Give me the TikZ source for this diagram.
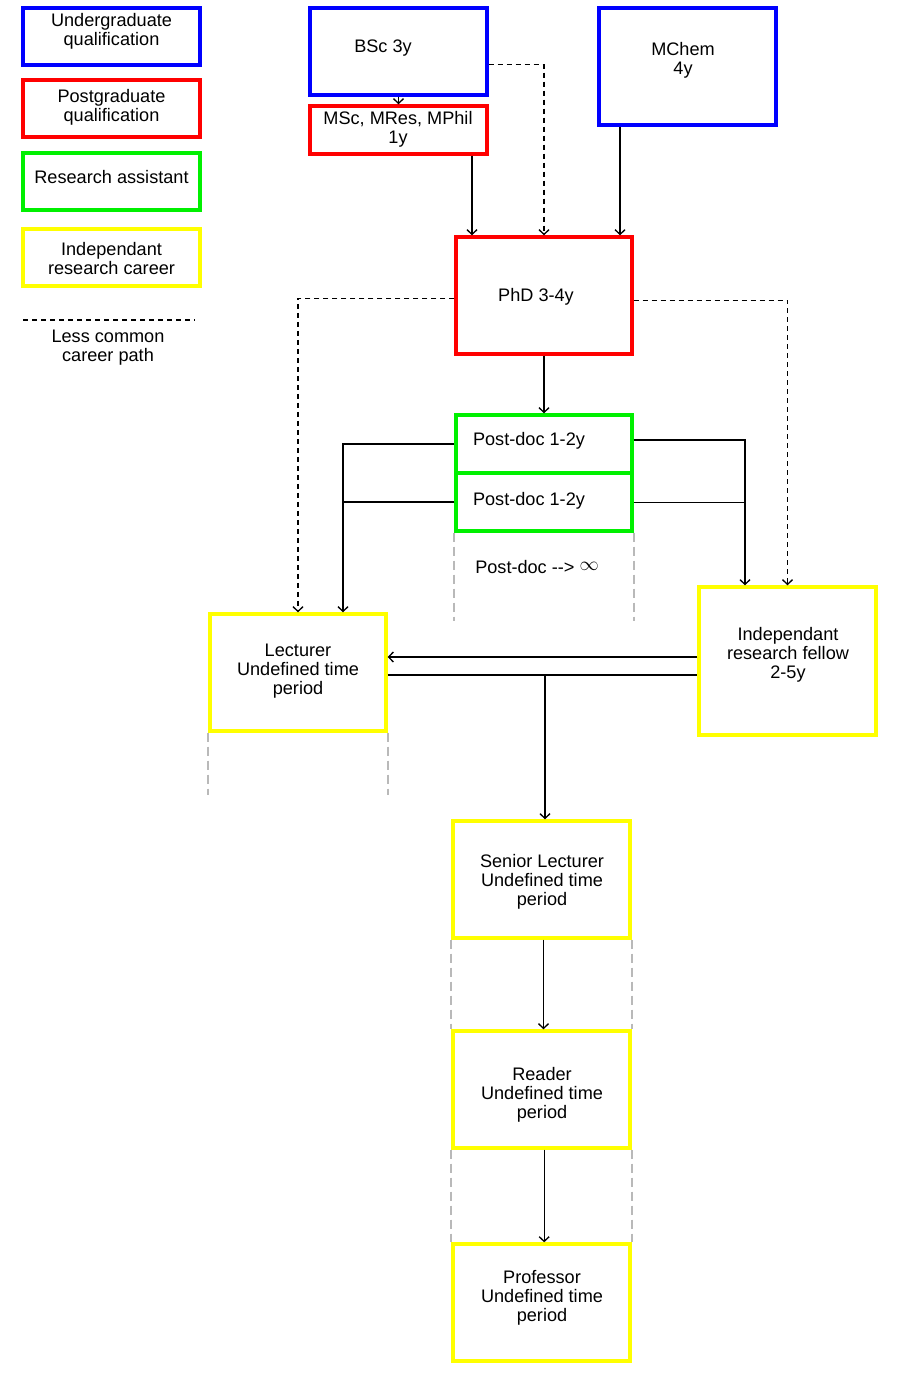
\documentclass[tikz,border=0pt]{standalone}
\usepackage{fontspec}
\setmainfont{Liberation Sans}
\usetikzlibrary{arrows.meta,calc}
\definecolor{ublue}{RGB}{0,0,255}
\definecolor{ured}{RGB}{255,0,0}
\definecolor{ugreen}{RGB}{0,240,0}
\definecolor{uyellow}{RGB}{255,255,0}
\definecolor{ghostgray}{RGB}{185,185,185}
\begin{document}
\begin{tikzpicture}[x=0.75pt,y=-0.75pt,
 box/.style={draw, line width=2.6pt, minimum width=132.75pt, inner sep=0pt},
 lbl/.style={align=center, font=\fontsize{13.6}{14.3}\selectfont, inner sep=0pt},
 conn/.style={line width=1pt, -{Straight Barb[length=3.5pt,width=7.5pt]}},
 plain/.style={line width=1pt},
 lessconn/.style={line width=1pt, dash pattern=on 3.75pt off 3pt, -{Straight Barb[length=3.5pt,width=7.5pt]}},
 less/.style={line width=1pt, dash pattern=on 3.75pt off 3pt},
 ghost/.style={line width=1.2pt, ghostgray, dash pattern=on 6.75pt off 3.75pt}]
\useasboundingbox (0,0) rectangle (900,1380);
\fill[white] (0,0) rectangle (900,1380);

% legend
\node[box, draw=ublue, minimum height=42.75pt] (ug) at (111.5,36.5) {};
\node[lbl] (ugt) at (111.5,31.5) {Undergraduate\\qualification};
\node[box, draw=ured, minimum height=42.75pt] (pg) at (111.5,108.5) {};
\node[lbl] (pgt) at (111.5,107.5) {Postgraduate\\qualification};
\node[box, draw=ugreen, minimum height=42.75pt] (ra) at (111.5,181.5) {};
\node[lbl] (rat) at (111.5,177) {Research assistant};
\node[box, draw=uyellow, minimum height=42.75pt] (ir) at (111.5,257.5) {};
\node[lbl] (irt) at (111.5,258.5) {Independant\\research career};
\coordinate (lessA) at (23,320);
\coordinate (lessB) at (195,320);
\draw[less] (lessA) -- (lessB);
\node[lbl] (lesst) at (108,347.5) {Less common\\career path};

% top qualifications
\node[box, draw=ublue, minimum height=65.25pt] (bsc) at (398.5,51.5) {};
\node[lbl] (bsct) at (383,48) {BSc 3y};
\node[box, draw=ured, minimum height=36pt] (msc) at (398.5,130) {};
\node[lbl] (msct) at (398,129.5) {MSc, MRes, MPhil\\1y};
\node[box, draw=ublue, minimum height=87.75pt] (mchem) at (687.5,66.5) {};
\node[lbl] (mchemt) at (683,60.5) {MChem\\4y};

% PhD and post-docs
\node[box, draw=ured, minimum width=132pt, minimum height=87.75pt] (phd) at (544,295.5) {};
\node[lbl] (phdt) at (536,297) {PhD 3-4y};
\node[box, draw=ugreen, minimum width=132pt, minimum height=43.5pt] (pd1) at (544,444) {};
\node[lbl] (pd1t) at (529,441) {Post-doc 1-2y};
\node[box, draw=ugreen, minimum width=132pt, minimum height=43.5pt] (pd2) at (544,502) {};
\node[lbl] (pd2t) at (529,501) {Post-doc 1-2y};
\node[lbl] (pdinf) at (537,567) {Post-doc -{}-{}> \raisebox{2pt}{$\infty$}};

% careers
\node[box, draw=uyellow, minimum width=132pt, minimum height=87.75pt] (lect) at (298,672.5) {};
\node[lbl] (lectt) at (298,671) {Lecturer\\Undefined time\\period};
\node[box, draw=uyellow, minimum height=111pt] (irf) at (787.5,661) {};
\node[lbl] (irft) at (788,655) {Independant\\research fellow\\2-5y};
\node[box, draw=uyellow, minimum height=87.75pt] (sl) at (541.5,879.5) {};
\node[lbl] (slt) at (542,882) {Senior Lecturer\\Undefined time\\period};
\node[box, draw=uyellow, minimum height=87.75pt] (rd) at (541.5,1089.5) {};
\node[lbl] (rdt) at (542,1095) {Reader\\Undefined time\\period};
\node[box, draw=uyellow, minimum height=87.75pt] (prof) at (541.5,1302.5) {};
\node[lbl] (proft) at (542,1297.5) {Professor\\Undefined time\\period};

% ghost dashed guides
\draw[ghost] (pd2.south west) -- ++(0,88);
\draw[ghost] (pd2.south east) -- ++(0,88);
\draw[ghost] (lect.south west) -- ++(0,62);
\draw[ghost] (lect.south east) -- ++(0,62);
\draw[ghost] (sl.south west) -- (rd.north west);
\draw[ghost] (sl.south east) -- (rd.north east);
\draw[ghost] (rd.south west) -- (prof.north west);
\draw[ghost] (rd.south east) -- (prof.north east);

% connectors
\draw[conn] (bsc.south) -- (msc.north);
\draw[lessconn] ([yshift=-10pt]bsc.east) -| (phd.north);
\coordinate (mx) at ([xshift=55.1pt]msc.south);
\draw[conn] (mx) -- (mx |- phd.north);
\coordinate (cx) at ([xshift=-50.6pt]mchem.south);
\draw[conn] (cx) -- (cx |- phd.north);
\draw[lessconn] ([yshift=-2pt]phd.west) -| (lect.north);
\draw[lessconn] ([yshift=-3.5pt]phd.east) -| (irf.north);
\draw[conn] (phd.south) -- (pd1.north);
\coordinate (lx) at ([xshift=33.75pt]lect.north);
\draw[conn] (pd1.west) -| (lx);
\draw[plain] (pd2.west) -- (pd2.west -| lx);
\coordinate (rx) at ([xshift=-31.9pt]irf.north);
\draw[conn] ([yshift=3pt]pd1.east) -| (rx);
\draw[plain] ([yshift=-0.5pt]pd2.east) -- ([yshift=-0.5pt]pd2.east -| rx);
\draw[conn] ([yshift=3pt]irf.west) -- ([yshift=3pt]irf.west -| lect.east);
\draw[plain] ([yshift=-1.9pt]lect.east) -- ([yshift=-1.9pt]lect.east -| irf.west);
\coordinate (jn) at ([yshift=-1.9pt,xshift=2.6pt]lect.east -| sl.north);
\draw[conn] (jn) -- (jn |- sl.north);
\draw[conn] ([xshift=1.5pt]sl.south) -- ([xshift=1.5pt]rd.north);
\draw[conn] ([xshift=2pt]rd.south) -- ([xshift=2pt]prof.north);
\end{tikzpicture}
\end{document}
